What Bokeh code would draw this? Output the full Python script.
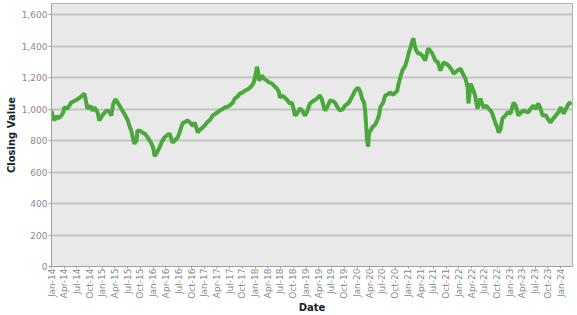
import math
import pandas as pd
from bokeh.plotting import figure
from bokeh.models import FixedTicker, NumeralTickFormatter, Range1d
from bokeh.embed import file_html
from bokeh.resources import INLINE

dates = [
    "2014-01-01", "2014-01-08", "2014-01-22", "2014-02-06", "2014-02-20", "2014-03-12", "2014-03-25",
    "2014-04-03", "2014-04-24", "2014-05-08", "2014-05-22", "2014-06-12", "2014-07-03", "2014-07-19",
    "2014-08-10", "2014-08-25", "2014-09-01", "2014-09-15", "2014-10-06", "2014-10-21", "2014-11-05",
    "2014-11-27", "2014-12-10", "2015-01-01", "2015-01-15", "2015-02-01", "2015-02-21", "2015-03-06",
    "2015-03-19", "2015-04-03", "2015-04-18", "2015-05-03", "2015-05-24", "2015-06-07", "2015-07-01",
    "2015-07-13", "2015-07-28", "2015-08-12", "2015-08-18", "2015-09-03", "2015-09-09", "2015-10-01",
    "2015-10-15", "2015-11-06", "2015-11-21", "2015-12-06", "2015-12-19", "2016-01-04", "2016-01-10",
    "2016-01-25", "2016-02-15", "2016-03-01", "2016-03-21", "2016-04-12", "2016-04-27", "2016-05-18",
    "2016-06-03", "2016-06-24", "2016-07-07", "2016-07-28", "2016-08-21", "2016-09-04", "2016-09-25",
    "2016-10-10", "2016-10-24", "2016-11-15", "2016-12-01", "2016-12-13", "2017-01-04", "2017-01-19",
    "2017-02-10", "2017-03-01", "2017-03-22", "2017-04-07", "2017-04-21", "2017-05-13", "2017-05-27",
    "2017-06-18", "2017-07-01", "2017-07-24", "2017-08-07", "2017-08-28", "2017-09-13", "2017-10-04",
    "2017-10-18", "2017-11-09", "2017-11-24", "2017-12-09", "2017-12-22", "2018-01-06", "2018-01-13",
    "2018-01-21", "2018-01-28", "2018-02-12", "2018-02-19", "2018-03-03", "2018-03-24", "2018-04-08",
    "2018-05-01", "2018-05-13", "2018-06-05", "2018-06-19", "2018-06-27", "2018-07-10", "2018-08-01",
    "2018-08-15", "2018-09-06", "2018-09-21", "2018-10-06", "2018-10-12", "2018-10-27", "2018-11-18",
    "2018-12-03", "2018-12-24", "2019-01-07", "2019-01-28", "2019-02-20", "2019-03-19", "2019-04-10",
    "2019-04-24", "2019-05-15", "2019-06-06", "2019-06-21", "2019-07-12", "2019-07-27", "2019-08-18",
    "2019-09-01", "2019-09-22", "2019-10-07", "2019-10-28", "2019-11-12", "2019-12-03", "2019-12-18",
    "2020-01-09", "2020-01-24", "2020-02-06", "2020-02-21", "2020-02-28", "2020-03-06", "2020-03-13",
    "2020-03-20", "2020-03-27", "2020-04-12", "2020-04-18", "2020-05-09", "2020-05-24", "2020-06-07",
    "2020-06-15", "2020-07-06", "2020-07-21", "2020-08-12", "2020-08-25", "2020-09-17", "2020-10-01",
    "2020-10-15", "2020-10-22", "2020-11-06", "2020-11-21", "2020-12-12", "2020-12-27", "2021-01-04",
    "2021-01-18", "2021-02-01", "2021-02-09", "2021-02-18", "2021-03-01", "2021-03-15", "2021-03-28",
    "2021-04-12", "2021-05-04", "2021-05-25", "2021-06-09", "2021-06-24", "2021-07-15", "2021-08-01",
    "2021-08-21", "2021-09-12", "2021-10-04", "2021-10-18", "2021-11-09", "2021-11-24", "2021-12-15",
    "2022-01-12", "2022-02-04", "2022-02-18", "2022-03-04", "2022-03-10", "2022-03-25", "2022-04-15",
    "2022-04-28", "2022-05-13", "2022-06-04", "2022-06-25", "2022-07-16", "2022-08-01", "2022-08-15",
    "2022-08-28", "2022-09-20", "2022-10-04", "2022-10-12", "2022-10-25", "2022-11-09", "2022-12-01",
    "2022-12-15", "2023-01-06", "2023-01-28", "2023-02-12", "2023-03-03", "2023-03-18", "2023-04-09",
    "2023-04-22", "2023-05-13", "2023-05-28", "2023-06-19", "2023-07-04", "2023-07-25", "2023-08-09",
    "2023-08-24", "2023-09-15", "2023-09-28", "2023-10-19", "2023-11-04", "2023-11-25", "2023-12-16",
    "2024-01-01", "2024-01-22", "2024-02-06", "2024-02-27", "2024-03-19",
]

closing = [
    990, 960, 927, 955, 940, 958, 975,
    1010, 1003, 1020, 1041, 1050, 1060, 1070,
    1086, 1098, 1070, 1003, 1020, 990, 1010,
    980, 927, 960, 975, 990, 985, 958,
    1030, 1062, 1045, 1022, 990, 971, 930,
    895, 860, 800, 780, 800, 863, 860,
    851, 840, 819, 800, 781, 740, 700,
    720, 756, 790, 819, 835, 844, 787,
    800, 819, 850, 908, 920, 927, 910,
    895, 914, 851, 870, 876, 895, 914,
    930, 958, 970, 980, 990, 1000, 1010,
    1015, 1022, 1040, 1066, 1080, 1098, 1105,
    1117, 1125, 1136, 1150, 1170, 1230, 1268,
    1240, 1181, 1200, 1213, 1195, 1181, 1170,
    1162, 1150, 1130, 1110, 1073, 1085, 1073,
    1060, 1035, 1040, 990, 958, 970, 1003,
    990, 958, 980, 1035, 1050, 1066, 1086,
    1060, 990, 1020, 1054, 1050, 1041, 1005,
    990, 1000, 1022, 1035, 1054, 1090, 1117,
    1136, 1110, 1066, 1040, 990, 900, 800,
    760, 850, 870, 883, 900, 927, 960,
    1010, 1040, 1086, 1095, 1105, 1090, 1105,
    1115, 1149, 1200, 1244, 1276, 1320, 1352,
    1390, 1435, 1448, 1400, 1370, 1352, 1352,
    1340, 1308, 1384, 1370, 1352, 1308, 1300,
    1244, 1295, 1285, 1276, 1250, 1225, 1240,
    1257, 1213, 1190, 1136, 1035, 1162, 1117,
    1080, 1003, 1066, 1010, 1020, 1003, 990,
    971, 908, 880, 850, 870, 940, 960,
    978, 971, 1041, 1020, 958, 975, 990,
    985, 978, 1000, 1022, 1000, 1035, 1000,
    958, 960, 940, 914, 935, 958, 980,
    1010, 971, 1000, 1035, 1041,
]

tick_dates = pd.date_range("2014-01-01", "2024-01-01", freq="3MS")
tick_labels = [d.strftime("%b-%y") for d in tick_dates]
y_ticks = [0, 200, 400, 600, 800, 1000, 1200, 1400, 1600]

epoch = pd.Timestamp("1970-01-01")
def to_ms(ts):
    return int((pd.Timestamp(ts) - epoch) // pd.Timedelta(milliseconds=1))

x = [to_ms(d) for d in dates]
tick_ms = [to_ms(d) for d in tick_dates]

p = figure(width=577, height=315, output_backend="svg", toolbar_location=None,
           x_range=Range1d(to_ms("2014-01-01"), to_ms("2024-03-25")),
           y_range=Range1d(0, 1670),
           min_border_left=51, min_border_right=5, min_border_top=3, min_border_bottom=49)

p.background_fill_color = "#e9e9e9"
p.border_fill_color = "white"
p.outline_line_color = "#b0b0b0"
p.outline_line_width = 1

p.line(x, closing, line_color="#4aa83c", line_width=4, line_join="bevel")

p.xgrid.visible = False
p.ygrid.grid_line_color = "#c4c4c4"
p.ygrid.grid_line_width = 2

p.xaxis.ticker = FixedTicker(ticks=tick_ms)
p.xaxis.major_label_overrides = {t: l for t, l in zip(tick_ms, tick_labels)}
p.xaxis.major_label_orientation = math.pi / 2
p.yaxis.ticker = FixedTicker(ticks=y_ticks)
p.yaxis.formatter = NumeralTickFormatter(format="0,0")

for ax in (p.xaxis[0], p.yaxis[0]):
    ax.axis_line_color = "#a0a0a0"
    ax.axis_line_width = 1
    ax.major_tick_line_color = "#a0a0a0"
    ax.major_tick_out = 3
    ax.major_tick_in = 0
    ax.minor_tick_line_color = None
    ax.major_label_text_font = "DejaVu Sans"
    ax.major_label_text_font_size = "9px"
    ax.major_label_text_color = "#8a8a8a"
    ax.major_label_standoff = 1
    ax.axis_label_text_font = "DejaVu Sans"
    ax.axis_label_text_font_size = "10px"
    ax.axis_label_text_font_style = "bold"
    ax.axis_label_text_color = "#222222"

p.xaxis.major_tick_out = 2
p.xaxis.major_label_standoff = 0
p.xaxis.axis_label_standoff = 0
p.xaxis.axis_label = "Date"
p.yaxis.axis_label = "Closing Value"
p.yaxis.axis_label_standoff = 2

open("out.html", "w").write(file_html(p, INLINE))
